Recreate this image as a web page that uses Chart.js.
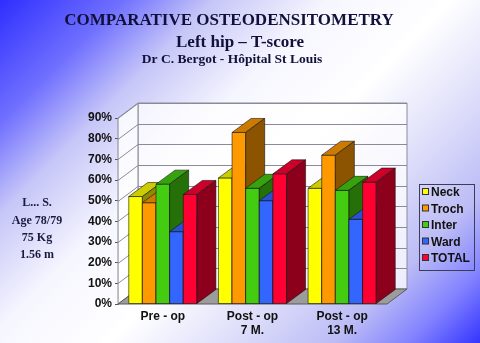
<!DOCTYPE html>
<html>
<head>
<meta charset="utf-8">
<title>Comparative osteodensitometry</title>
<script src="https://cdn.jsdelivr.net/npm/chart.js@4"></script>
<style>
  html, body { margin: 0; padding: 0; }
  body {
    width: 480px; height: 343px; overflow: hidden;
    background: linear-gradient(135deg, #2e2eff 0%, #7070ff 15%, #c6c6f8 26%, #f6f6ff 40%, #ffffff 55%, #dcdcfa 70%, #bcbcf6 82%, #8484ff 91%, #3434ff 100%);
  }
  canvas { display: block; }
</style>
</head>
<body>
<canvas id="chart" width="480" height="343"></canvas>
<script>
const categories = [["Pre - op"], ["Post - op", "7 M."], ["Post - op", "13 M."]];
const seriesNames = ["Neck", "Troch", "Inter", "Ward", "TOTAL"];
const neck = [52, 61, 56];
const troch = [49, 83, 72];
const inter = [58, 56, 55];
const ward = [35, 50, 41];
const total = [53, 63, 59];
const yMax = 90;
const yStep = 10;
const titleLines = ["COMPARATIVE OSTEODENSITOMETRY", "Left hip – T-score", "Dr C. Bergot - Hôpital St Louis"];
const patientLines = ["L... S.", "Age 78/79", "75 Kg", "1.56 m"];

const colors = ["#ffff00", "#ff9900", "#44cc11", "#3366ff", "#ff0033"];
const series = [neck, troch, inter, ward, total];

// depth of the box (walls, floor) and of the columns
const DX = 20, DY = -15;
const BDX = 19, BDY = -14;

function shade(hex, f) {
  const n = parseInt(hex.slice(1), 16);
  const r = Math.round(((n >> 16) & 255) * f);
  const g = Math.round(((n >> 8) & 255) * f);
  const b = Math.round((n & 255) * f);
  return `rgb(${r},${g},${b})`;
}

function poly(ctx, pts, fill, stroke) {
  ctx.beginPath();
  ctx.moveTo(pts[0][0], pts[0][1]);
  for (let i = 1; i < pts.length; i++) ctx.lineTo(pts[i][0], pts[i][1]);
  ctx.closePath();
  if (fill) { ctx.fillStyle = fill; ctx.fill(); }
  if (stroke) { ctx.strokeStyle = stroke; ctx.stroke(); }
}

const box3d = {
  id: "box3d",
  beforeDatasetsDraw(chart) {
    const { ctx, chartArea: a, scales: { y } } = chart;
    const L = a.left, R = a.right, T = a.top, B = a.bottom;
    ctx.save();
    ctx.lineWidth = 1;
    // back wall and left wall
    poly(ctx, [[L + DX, T + DY], [R + DX, T + DY], [R + DX, B + DY], [L + DX, B + DY]], "rgba(255,255,255,0.75)", "#8a8a9a");
    poly(ctx, [[L, T], [L + DX, T + DY], [L + DX, B + DY], [L, B]], "rgba(255,255,255,0.82)", "#8a8a9a");
    // gridlines on both walls
    ctx.strokeStyle = "#8a8a9a";
    y.ticks.forEach(t => {
      const py = Math.round(y.getPixelForValue(t.value)) + 0.5;
      ctx.beginPath();
      ctx.moveTo(L, py);
      ctx.lineTo(L + DX, py + DY);
      ctx.lineTo(R + DX, py + DY);
      ctx.stroke();
    });
    // floor
    poly(ctx, [[L, B], [R, B], [R + DX, B + DY], [L + DX, B + DY]], "#9c9c9c", "#5a5a5a");
    ctx.restore();
  },
  afterDatasetsDraw(chart) {
    const ctx = chart.ctx;
    const metas = series.map((s, i) => chart.getDatasetMeta(i));
    ctx.save();
    ctx.lineWidth = 0.8;
    ctx.lineJoin = "round";
    const edge = "rgba(20,20,20,0.75)";
    for (let c = 0; c < categories.length; c++) {
      metas.forEach((meta, d) => {
        const { x, y, base, width } = meta.data[c].getProps(["x", "y", "base", "width"], true);
        const l = x - width / 2, r = x + width / 2;
        const col = colors[d];
        poly(ctx, [[l, y], [r, y], [r, base], [l, base]], col, edge);
        poly(ctx, [[l, y], [l + BDX, y + BDY], [r + BDX, y + BDY], [r, y]], shade(col, 0.8), edge);
        poly(ctx, [[r, y], [r + BDX, y + BDY], [r + BDX, base + BDY], [r, base]], shade(col, 0.55), edge);
      });
    }
    ctx.restore();
  },
  afterDraw(chart) {
    const ctx = chart.ctx;
    ctx.save();
    ctx.fillStyle = "#10103a";
    ctx.textAlign = "center";
    ctx.textBaseline = "alphabetic";
    ctx.font = "bold 17px 'Liberation Serif'";
    ctx.fillText(titleLines[0], 229, 25);
    ctx.fillText(titleLines[1], 240, 47);
    ctx.font = "bold 13.5px 'Liberation Serif'";
    ctx.fillText(titleLines[2], 232, 63);

    ctx.font = "bold 12px 'Liberation Serif'";
    ctx.fillStyle = "#1a1a40";
    [206, 224, 241, 258].forEach((by, i) => ctx.fillText(patientLines[i], 37, by));

    // legend
    ctx.strokeStyle = "#3c3c5a";
    ctx.lineWidth = 1;
    ctx.strokeRect(419.5, 184.5, 55, 86);
    ctx.textAlign = "left";
    ctx.font = "bold 12px 'Liberation Sans'";
    seriesNames.forEach((name, i) => {
      const by = 196 + i * 16.5;
      ctx.fillStyle = colors[i];
      ctx.fillRect(422.5, by - 7.5, 6, 6);
      ctx.strokeStyle = "#333";
      ctx.strokeRect(422.5, by - 7.5, 6, 6);
      ctx.fillStyle = "#111";
      ctx.fillText(name, 431, by);
    });
    ctx.restore();
  }
};

new Chart(document.getElementById("chart"), {
  type: "bar",
  data: {
    labels: categories,
    datasets: series.map((s, i) => ({
      label: seriesNames[i],
      data: s,
      backgroundColor: "rgba(0,0,0,0)",
      borderWidth: 0,
      categoryPercentage: 0.76,
      barPercentage: 1
    }))
  },
  options: {
    responsive: false,
    animation: false,
    layout: { padding: { left: 0, top: 118, right: 93, bottom: 0 } },
    plugins: { legend: { display: false }, tooltip: { enabled: false } },
    scales: {
      x: {
        grid: { display: false, drawTicks: false },
        border: { display: false },
        ticks: { font: { family: "'Liberation Sans'", size: 12, weight: "bold" }, color: "#111", padding: 5, maxRotation: 0 },
        afterFit(scale) { scale.height = 39; }
      },
      y: {
        min: 0,
        max: yMax,
        ticks: { stepSize: yStep, callback: v => v + "%", font: { family: "'Liberation Sans'", size: 12, weight: "bold" }, color: "#111", padding: 3 },
        grid: { drawOnChartArea: false, drawTicks: true, tickLength: 3, color: "#555" },
        border: { color: "#8a8a9a" },
        afterFit(scale) { scale.width = 118; }
      }
    }
  },
  plugins: [box3d]
});
</script>
</body>
</html>
